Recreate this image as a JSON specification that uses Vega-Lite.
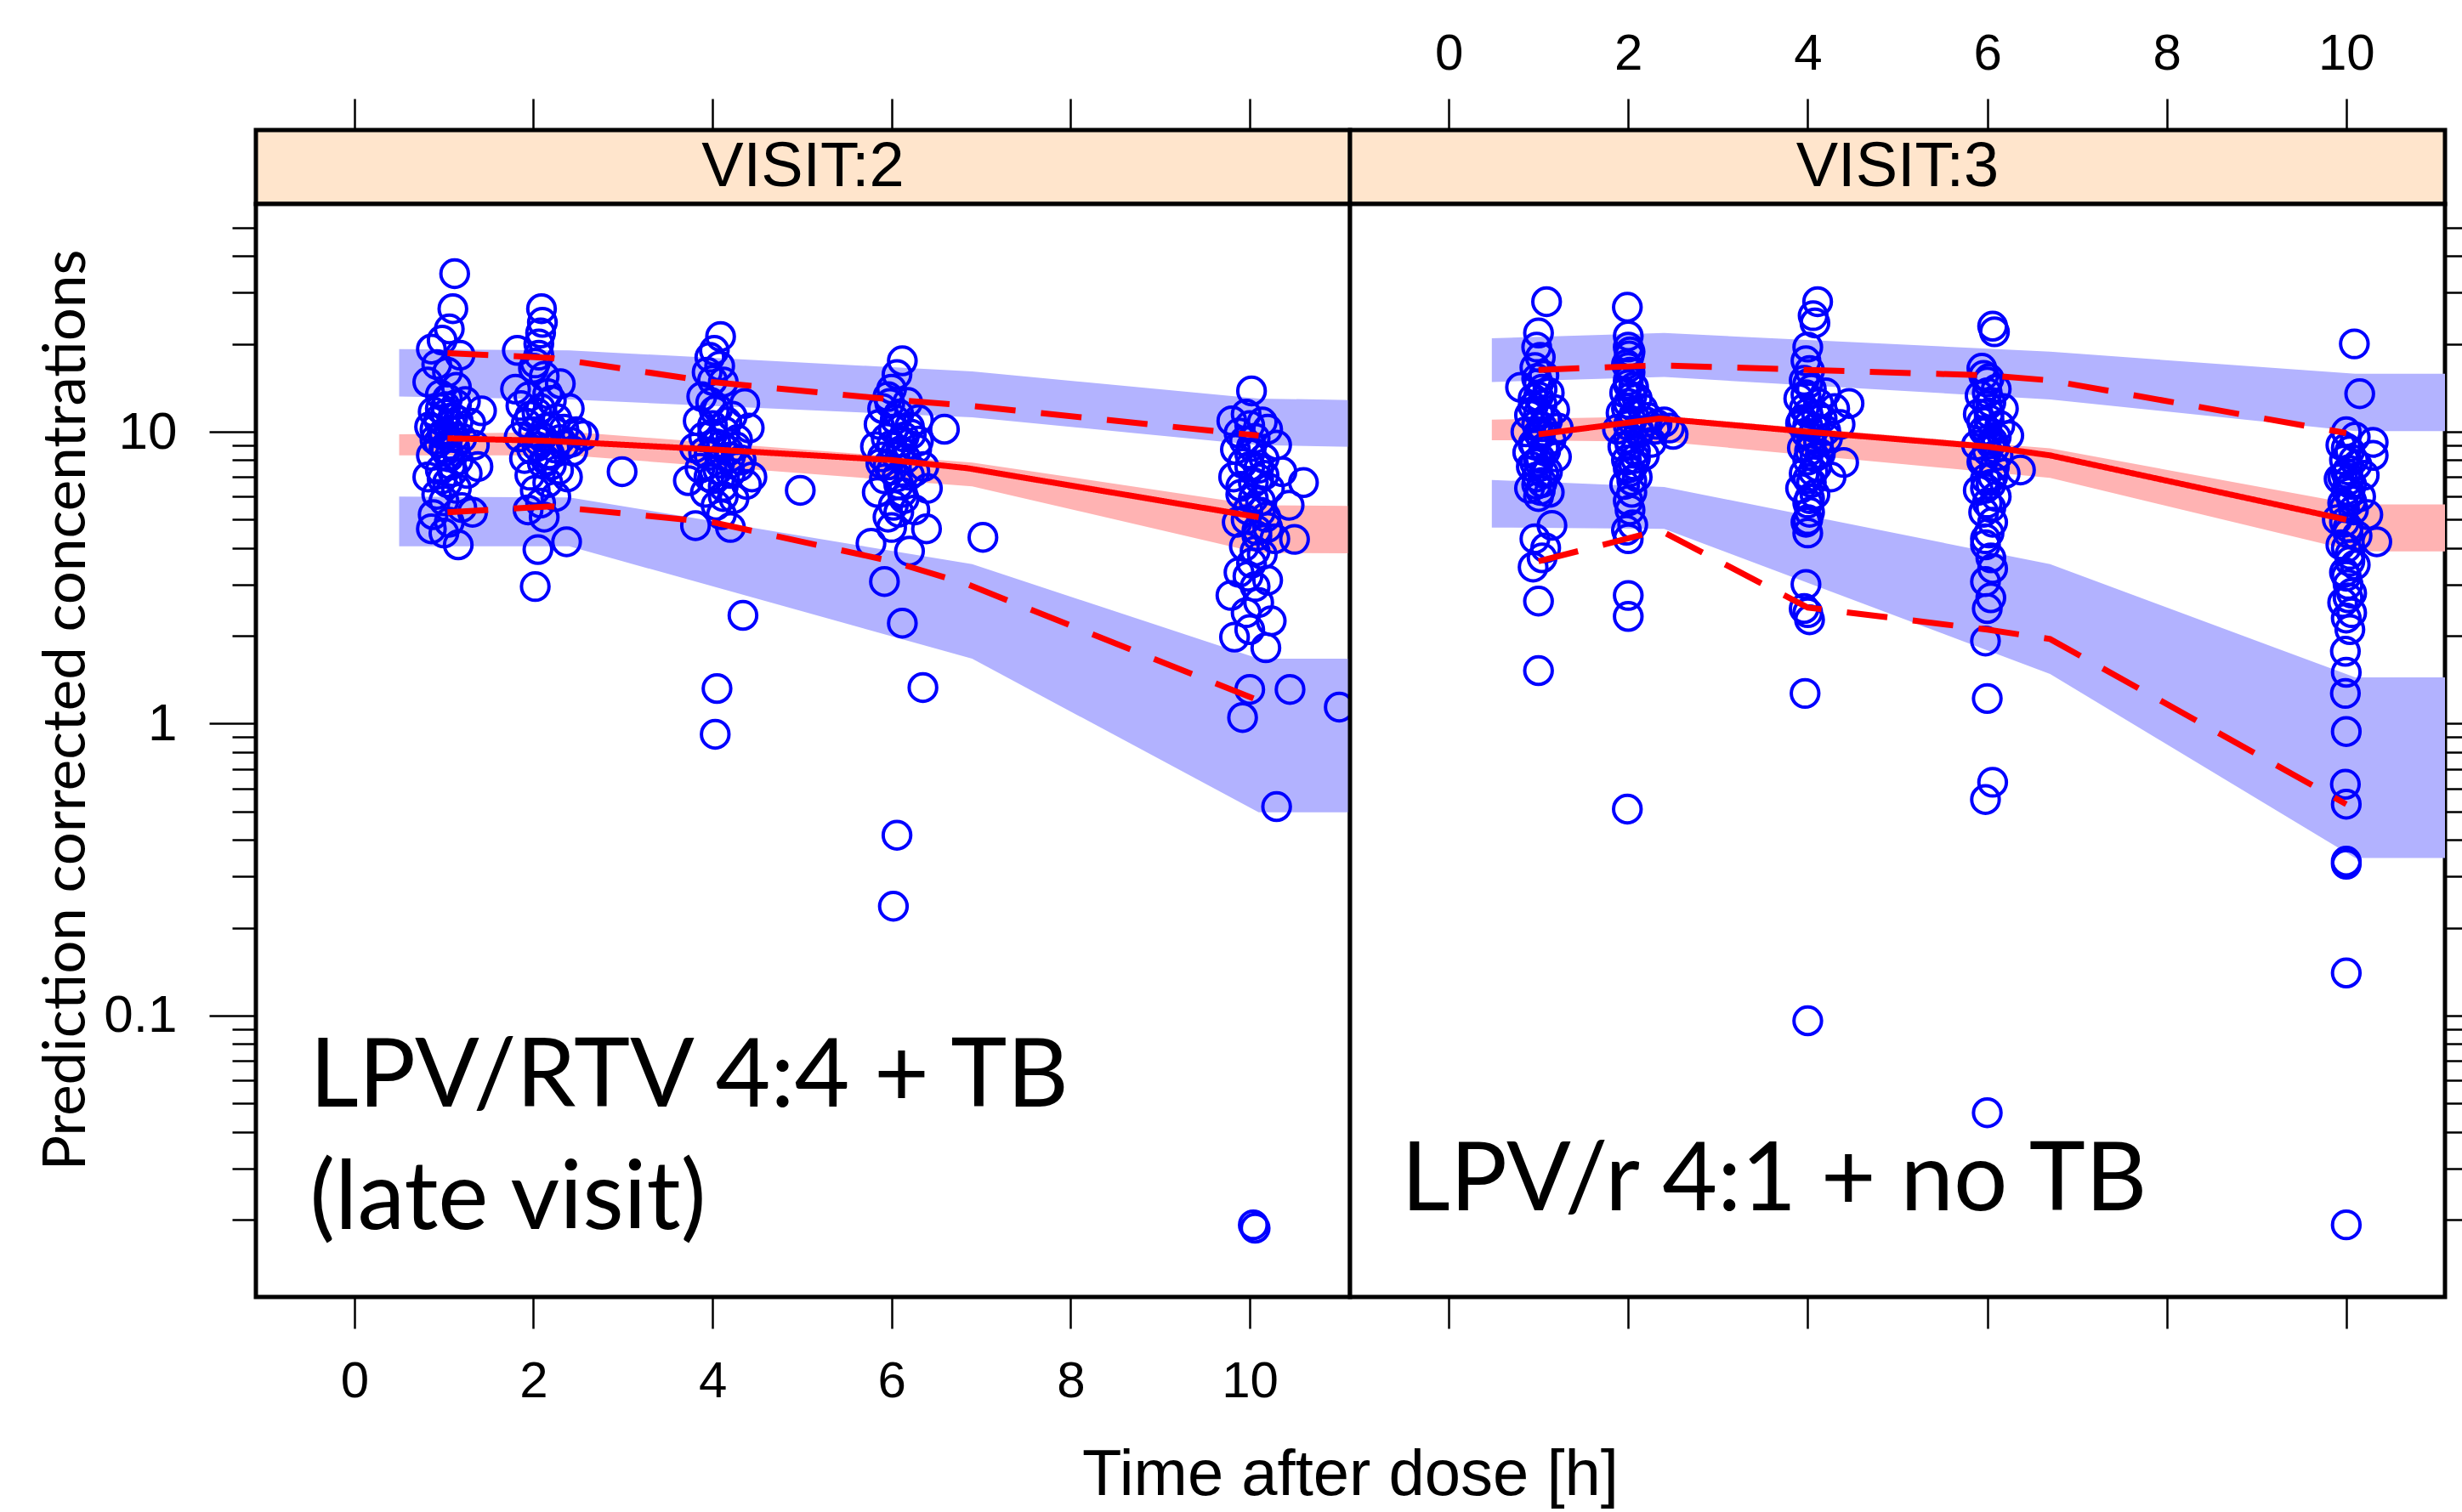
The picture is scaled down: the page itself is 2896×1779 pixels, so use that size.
{
"$schema": "https://vega.github.io/schema/vega-lite/v6.json",
"padding": {"left": 41, "top": 30, "right": 5, "bottom": 5},
"background": "white",
"datasets": {
"pts2": [
{"t":1.12,"v":34.8},{"t":1.10,"v":26.4},{"t":1.06,"v":22.5},{"t":0.98,"v":20.6},{"t":0.86,"v":19.2},{"t":1.18,"v":18.3},{"t":0.92,"v":17.0},{"t":1.04,"v":16.0},{"t":0.82,"v":14.8},{"t":1.14,"v":14.2},{"t":0.96,"v":13.4},{"t":1.24,"v":12.7},{"t":1.02,"v":12.2},{"t":0.88,"v":11.7},{"t":1.42,"v":11.8},{"t":1.10,"v":11.2},{"t":1.30,"v":10.7},{"t":0.84,"v":10.4},{"t":1.06,"v":10.1},{"t":0.98,"v":9.8},{"t":1.20,"v":9.5},{"t":0.94,"v":9.2},{"t":1.12,"v":8.9},{"t":1.02,"v":8.6},{"t":0.86,"v":8.3},{"t":1.16,"v":8.0},{"t":1.08,"v":7.7},{"t":0.96,"v":7.4},{"t":1.26,"v":7.2},{"t":0.82,"v":7.0},{"t":1.04,"v":6.7},{"t":1.14,"v":6.4},{"t":0.92,"v":6.1},{"t":1.00,"v":5.8},{"t":1.20,"v":5.5},{"t":0.88,"v":5.2},{"t":1.32,"v":5.3},{"t":1.06,"v":4.9},{"t":0.86,"v":4.65},{"t":1.00,"v":4.5},{"t":1.16,"v":4.1},{"t":1.34,"v":9.0},{"t":1.38,"v":7.6},
{"t":1.0,"v":9.9},{"t":1.08,"v":10.6},{"t":0.94,"v":11.0},{"t":1.12,"v":9.6},{"t":1.0,"v":8.8},{"t":0.9,"v":9.4},{"t":1.06,"v":8.2},{"t":1.16,"v":10.9},{"t":0.96,"v":12.0},{"t":1.04,"v":13.0},{"t":1.1,"v":7.3},{"t":0.98,"v":6.9},{"t":1.02,"v":11.5},{"t":0.9,"v":10.2},{"t":1.14,"v":12.4},
{"t":2.09,"v":26.4},{"t":2.10,"v":23.7},{"t":2.08,"v":21.8},{"t":2.06,"v":20.0},{"t":1.82,"v":19.0},{"t":2.02,"v":17.2},{"t":2.30,"v":14.6},{"t":1.80,"v":14.0},{"t":2.12,"v":15.5},{"t":1.95,"v":13.2},{"t":2.20,"v":12.8},{"t":1.86,"v":12.3},{"t":2.40,"v":12.0},{"t":2.04,"v":11.6},{"t":2.26,"v":11.1},{"t":1.92,"v":10.7},{"t":2.14,"v":10.3},{"t":2.48,"v":10.0},{"t":2.56,"v":9.7},{"t":1.84,"v":9.6},{"t":2.06,"v":9.3},{"t":2.34,"v":9.0},{"t":1.98,"v":8.7},{"t":2.18,"v":8.4},{"t":2.44,"v":8.6},{"t":1.90,"v":8.1},{"t":2.10,"v":7.8},{"t":2.28,"v":7.4},{"t":2.38,"v":7.0},{"t":1.96,"v":7.1},{"t":2.16,"v":6.7},{"t":2.02,"v":6.3},{"t":2.25,"v":6.0},{"t":2.08,"v":5.7},{"t":1.94,"v":5.4},{"t":2.12,"v":5.1},{"t":2.05,"v":3.95},{"t":2.37,"v":4.2},{"t":2.02,"v":2.95},
{"t":2.0,"v":10.0},{"t":2.1,"v":9.6},{"t":2.2,"v":10.4},{"t":2.3,"v":9.4},{"t":2.04,"v":8.9},{"t":2.14,"v":8.0},{"t":2.24,"v":8.8},{"t":2.34,"v":10.2},{"t":2.42,"v":9.2},{"t":1.96,"v":11.3},{"t":2.08,"v":12.0},{"t":2.16,"v":13.5},{"t":2.0,"v":16.5},{"t":2.06,"v":18.3},{"t":2.2,"v":7.7},
{"t":2.99,"v":7.3},{"t":4.98,"v":6.3},{"t":7.02,"v":4.35},{"t":6.59,"v":10.2},{"t":10.6,"v":6.7},{"t":11.0,"v":1.14},
{"t":4.09,"v":21.2},{"t":4.02,"v":19.0},{"t":3.97,"v":18.0},{"t":3.94,"v":16.0},{"t":4.12,"v":14.8},{"t":4.36,"v":12.5},{"t":3.88,"v":13.2},{"t":4.06,"v":12.0},{"t":4.22,"v":11.3},{"t":3.84,"v":10.9},{"t":4.41,"v":10.3},{"t":4.00,"v":10.5},{"t":4.14,"v":10.0},{"t":3.90,"v":9.6},{"t":4.28,"v":9.4},{"t":4.04,"v":9.1},{"t":3.80,"v":8.8},{"t":4.18,"v":8.6},{"t":3.96,"v":8.3},{"t":4.32,"v":8.0},{"t":4.08,"v":7.8},{"t":3.86,"v":7.5},{"t":4.20,"v":7.2},{"t":4.44,"v":7.0},{"t":4.00,"v":6.9},{"t":3.73,"v":6.8},{"t":4.12,"v":6.5},{"t":4.38,"v":6.6},{"t":3.92,"v":6.2},{"t":4.24,"v":5.9},{"t":4.04,"v":5.6},{"t":3.81,"v":4.77},{"t":4.20,"v":4.7},{"t":4.34,"v":2.35},{"t":4.05,"v":1.32},{"t":4.03,"v":0.92},{"t":4.10,"v":5.2},
{"t":4.0,"v":9.8},{"t":4.1,"v":9.0},{"t":4.2,"v":8.2},{"t":3.96,"v":7.0},{"t":4.06,"v":7.4},{"t":4.16,"v":10.8},{"t":3.9,"v":8.5},{"t":4.02,"v":11.8},{"t":4.26,"v":8.9},{"t":4.12,"v":6.0},{"t":3.98,"v":12.6},{"t":4.3,"v":7.6},{"t":4.0,"v":15.0},{"t":4.08,"v":16.8},
{"t":6.12,"v":17.5},{"t":6.06,"v":15.7},{"t":6.00,"v":14.0},{"t":5.96,"v":13.2},{"t":6.18,"v":12.6},{"t":5.90,"v":12.0},{"t":6.08,"v":11.5},{"t":6.30,"v":11.0},{"t":5.86,"v":10.6},{"t":6.02,"v":10.2},{"t":6.22,"v":9.8},{"t":5.94,"v":9.5},{"t":6.10,"v":9.2},{"t":5.82,"v":8.9},{"t":6.28,"v":8.7},{"t":6.04,"v":8.4},{"t":6.16,"v":8.1},{"t":5.88,"v":7.8},{"t":6.36,"v":7.6},{"t":6.00,"v":7.4},{"t":6.20,"v":7.1},{"t":5.92,"v":6.9},{"t":6.08,"v":6.6},{"t":6.40,"v":6.4},{"t":5.84,"v":6.2},{"t":6.14,"v":5.9},{"t":6.02,"v":5.6},{"t":6.26,"v":5.4},{"t":5.96,"v":5.1},{"t":6.39,"v":4.65},{"t":5.77,"v":4.15},{"t":6.20,"v":3.9},{"t":5.92,"v":3.07},{"t":6.12,"v":2.21},{"t":6.35,"v":1.33},{"t":6.06,"v":0.415},{"t":6.02,"v":0.237},
{"t":6.0,"v":9.0},{"t":6.1,"v":8.6},{"t":6.2,"v":10.4},{"t":5.96,"v":7.7},{"t":6.06,"v":7.0},{"t":6.14,"v":9.6},{"t":5.9,"v":8.2},{"t":6.04,"v":11.0},{"t":6.26,"v":7.3},{"t":6.12,"v":6.2},{"t":5.98,"v":12.5},{"t":6.3,"v":9.3},{"t":6.08,"v":5.3},{"t":6.0,"v":4.7},
{"t":10.02,"v":13.8},{"t":9.96,"v":11.5},{"t":9.80,"v":10.9},{"t":10.14,"v":10.8},{"t":10.20,"v":10.2},{"t":9.88,"v":9.9},{"t":10.06,"v":9.5},{"t":10.30,"v":9.0},{"t":9.84,"v":8.7},{"t":10.00,"v":8.4},{"t":10.16,"v":8.1},{"t":9.92,"v":7.8},{"t":10.10,"v":7.5},{"t":10.36,"v":7.3},{"t":9.82,"v":7.0},{"t":10.04,"v":6.7},{"t":10.22,"v":6.4},{"t":9.90,"v":6.1},{"t":10.12,"v":5.8},{"t":10.44,"v":5.6},{"t":9.98,"v":5.4},{"t":10.18,"v":5.1},{"t":9.86,"v":4.9},{"t":10.08,"v":4.6},{"t":10.28,"v":4.3},{"t":10.50,"v":4.28},{"t":9.94,"v":4.05},{"t":10.14,"v":3.8},{"t":10.02,"v":3.55},{"t":9.88,"v":3.3},{"t":10.20,"v":3.1},{"t":10.06,"v":2.95},{"t":9.79,"v":2.75},{"t":10.10,"v":2.6},{"t":9.96,"v":2.4},{"t":10.24,"v":2.25},{"t":10.00,"v":2.1},{"t":9.83,"v":1.98},{"t":10.18,"v":1.82},{"t":10.00,"v":1.31},{"t":9.92,"v":1.05},{"t":10.45,"v":1.31},{"t":10.30,"v":0.52},{"t":10.06,"v":0.0187},{"t":10.04,"v":0.0192},
{"t":10.0,"v":7.6},{"t":10.1,"v":6.9},{"t":10.04,"v":5.9},{"t":9.96,"v":5.0},{"t":10.08,"v":4.4},{"t":10.02,"v":8.9},{"t":9.9,"v":6.5},{"t":10.16,"v":7.1},{"t":10.06,"v":3.9},{"t":9.98,"v":3.2},{"t":10.12,"v":5.3},{"t":10.0,"v":10.5},{"t":9.94,"v":9.3},{"t":10.2,"v":4.7}
],
"pts3": [
{"t":1.09,"v":27.9},{"t":1.00,"v":21.8},{"t":0.98,"v":19.5},{"t":1.02,"v":18.0},{"t":0.96,"v":16.6},{"t":1.06,"v":15.6},{"t":0.80,"v":14.2},{"t":1.00,"v":14.6},{"t":1.12,"v":13.6},{"t":0.94,"v":13.0},{"t":1.04,"v":12.4},{"t":1.18,"v":11.9},{"t":0.90,"v":11.4},{"t":1.08,"v":11.0},{"t":0.98,"v":10.6},{"t":1.22,"v":10.3},{"t":0.86,"v":10.0},{"t":1.02,"v":9.7},{"t":1.14,"v":9.4},{"t":0.94,"v":9.1},{"t":1.06,"v":8.8},{"t":0.88,"v":8.5},{"t":1.20,"v":8.2},{"t":1.00,"v":7.9},{"t":0.92,"v":7.6},{"t":1.10,"v":7.3},{"t":0.98,"v":7.0},{"t":1.04,"v":6.7},{"t":0.90,"v":6.4},{"t":1.12,"v":6.2},{"t":1.00,"v":6.0},{"t":1.15,"v":4.78},{"t":0.96,"v":4.3},{"t":1.04,"v":3.7},{"t":0.94,"v":3.44},{"t":1.08,"v":4.0},{"t":1.00,"v":2.63},{"t":1.00,"v":1.52},
{"t":1.0,"v":9.9},{"t":1.04,"v":10.4},{"t":0.96,"v":9.0},{"t":1.08,"v":8.6},{"t":1.0,"v":11.6},{"t":0.94,"v":12.2},{"t":1.02,"v":8.1},{"t":1.06,"v":7.2},{"t":0.98,"v":6.6},{"t":1.1,"v":10.9},{"t":1.0,"v":13.2},{"t":1.04,"v":14.0},{"t":0.98,"v":15.2},{"t":1.02,"v":6.3},{"t":0.96,"v":7.8},
{"t":1.99,"v":26.7},{"t":2.00,"v":21.3},{"t":2.00,"v":19.5},{"t":2.01,"v":18.2},{"t":1.98,"v":17.0},{"t":2.02,"v":16.0},{"t":2.00,"v":15.0},{"t":2.06,"v":14.2},{"t":1.96,"v":13.6},{"t":2.10,"v":13.0},{"t":2.00,"v":12.5},{"t":2.16,"v":12.0},{"t":1.92,"v":11.6},{"t":2.22,"v":11.2},{"t":2.04,"v":10.9},{"t":2.32,"v":10.6},{"t":2.46,"v":10.3},{"t":2.50,"v":9.8},{"t":1.88,"v":10.2},{"t":2.12,"v":9.9},{"t":2.00,"v":9.5},{"t":2.26,"v":9.2},{"t":1.94,"v":8.9},{"t":2.08,"v":8.6},{"t":2.18,"v":8.3},{"t":1.98,"v":8.0},{"t":2.06,"v":7.7},{"t":2.02,"v":7.3},{"t":2.10,"v":7.0},{"t":1.96,"v":6.6},{"t":2.04,"v":6.2},{"t":2.00,"v":5.8},{"t":2.02,"v":5.4},{"t":2.05,"v":4.8},{"t":1.98,"v":4.6},{"t":2.00,"v":4.3},{"t":2.00,"v":2.75},{"t":2.00,"v":2.33},{"t":1.99,"v":0.51},
{"t":2.0,"v":10.5},{"t":2.06,"v":11.4},{"t":2.12,"v":10.1},{"t":2.2,"v":10.8},{"t":2.3,"v":10.2},{"t":2.4,"v":10.8},{"t":2.02,"v":9.0},{"t":2.08,"v":8.1},{"t":1.98,"v":12.0},{"t":2.04,"v":13.2},{"t":2.0,"v":14.5},{"t":2.0,"v":16.6},{"t":2.02,"v":18.8},{"t":2.0,"v":7.5},{"t":2.04,"v":6.8},
{"t":4.11,"v":27.9},{"t":4.06,"v":25.0},{"t":4.08,"v":23.6},{"t":4.00,"v":19.5},{"t":3.98,"v":17.5},{"t":4.02,"v":16.2},{"t":4.46,"v":12.5},{"t":3.96,"v":15.0},{"t":4.04,"v":14.0},{"t":4.20,"v":13.6},{"t":3.90,"v":13.0},{"t":4.12,"v":12.5},{"t":4.30,"v":12.0},{"t":4.00,"v":11.6},{"t":4.16,"v":11.1},{"t":3.92,"v":10.7},{"t":4.08,"v":10.3},{"t":4.36,"v":10.6},{"t":3.98,"v":9.9},{"t":4.22,"v":9.5},{"t":4.04,"v":9.1},{"t":3.94,"v":8.8},{"t":4.14,"v":8.4},{"t":4.40,"v":7.85},{"t":4.00,"v":8.0},{"t":4.10,"v":7.6},{"t":3.96,"v":7.2},{"t":4.26,"v":7.0},{"t":4.04,"v":6.7},{"t":3.92,"v":6.4},{"t":4.08,"v":6.1},{"t":4.00,"v":5.7},{"t":4.02,"v":5.3},{"t":3.98,"v":4.9},{"t":4.00,"v":4.5},{"t":3.98,"v":3.0},{"t":3.96,"v":2.48},{"t":4.02,"v":2.27},{"t":4.00,"v":2.4},{"t":3.97,"v":1.27},{"t":4.00,"v":0.096},
{"t":4.0,"v":10.5},{"t":4.04,"v":9.6},{"t":4.1,"v":11.4},{"t":3.96,"v":12.0},{"t":4.02,"v":8.6},{"t":4.08,"v":8.2},{"t":3.98,"v":13.4},{"t":4.0,"v":14.6},{"t":4.06,"v":7.3},{"t":4.0,"v":6.9},{"t":4.12,"v":9.2},{"t":4.2,"v":10.1},{"t":3.94,"v":11.0},{"t":4.02,"v":5.9},{"t":4.0,"v":5.0},
{"t":6.06,"v":23.0},{"t":6.08,"v":22.0},{"t":5.94,"v":16.5},{"t":5.96,"v":15.6},{"t":6.00,"v":14.8},{"t":6.10,"v":14.0},{"t":5.92,"v":13.3},{"t":6.04,"v":12.6},{"t":6.18,"v":12.0},{"t":5.90,"v":11.5},{"t":6.02,"v":11.0},{"t":6.14,"v":10.5},{"t":5.96,"v":10.1},{"t":6.24,"v":9.7},{"t":6.06,"v":9.3},{"t":5.88,"v":9.0},{"t":6.00,"v":8.6},{"t":6.12,"v":8.3},{"t":6.37,"v":7.4},{"t":5.94,"v":7.9},{"t":6.08,"v":7.6},{"t":6.20,"v":7.2},{"t":5.98,"v":6.9},{"t":6.04,"v":6.6},{"t":5.90,"v":6.3},{"t":6.10,"v":6.0},{"t":6.00,"v":5.7},{"t":5.96,"v":5.3},{"t":6.06,"v":4.9},{"t":6.02,"v":4.5},{"t":5.98,"v":4.1},{"t":6.04,"v":3.7},{"t":5.98,"v":3.07},{"t":6.00,"v":2.48},{"t":6.04,"v":2.7},{"t":5.98,"v":1.92},{"t":6.00,"v":1.22},{"t":6.06,"v":0.63},{"t":5.98,"v":0.55},{"t":6.00,"v":0.0465},
{"t":6.0,"v":10.0},{"t":6.04,"v":9.1},{"t":6.08,"v":8.8},{"t":5.96,"v":8.0},{"t":6.02,"v":11.6},{"t":6.0,"v":12.3},{"t":6.06,"v":7.0},{"t":5.98,"v":6.4},{"t":6.1,"v":9.6},{"t":5.94,"v":10.8},{"t":6.0,"v":13.6},{"t":6.02,"v":15.2},{"t":6.04,"v":5.5},{"t":5.98,"v":4.3},{"t":6.06,"v":3.4},
{"t":10.09,"v":20.0},{"t":10.15,"v":13.5},{"t":10.00,"v":10.0},{"t":10.10,"v":9.6},{"t":10.30,"v":9.2},{"t":9.94,"v":9.0},{"t":10.04,"v":8.6},{"t":10.30,"v":8.3},{"t":9.98,"v":8.0},{"t":10.12,"v":7.7},{"t":10.02,"v":7.4},{"t":10.20,"v":7.1},{"t":9.92,"v":6.9},{"t":10.06,"v":6.6},{"t":10.00,"v":6.3},{"t":10.16,"v":6.0},{"t":9.96,"v":5.7},{"t":10.08,"v":5.4},{"t":10.24,"v":5.2},{"t":9.90,"v":5.0},{"t":10.02,"v":4.7},{"t":10.34,"v":4.2},{"t":10.12,"v":4.4},{"t":9.94,"v":4.1},{"t":10.04,"v":3.8},{"t":10.10,"v":3.5},{"t":9.98,"v":3.3},{"t":10.02,"v":3.0},{"t":10.06,"v":2.8},{"t":9.96,"v":2.6},{"t":10.00,"v":2.3},{"t":10.04,"v":2.1},{"t":9.99,"v":1.77},{"t":10.00,"v":1.5},{"t":9.99,"v":1.27},{"t":10.00,"v":0.94},{"t":9.99,"v":0.62},{"t":10.00,"v":0.53},{"t":10.00,"v":0.338},{"t":10.00,"v":0.33},{"t":10.00,"v":0.14},{"t":10.00,"v":0.0192},
{"t":10.0,"v":7.2},{"t":10.04,"v":6.2},{"t":10.06,"v":5.8},{"t":9.98,"v":4.9},{"t":10.02,"v":4.5},{"t":10.0,"v":8.8},{"t":10.08,"v":8.0},{"t":9.96,"v":7.0},{"t":10.04,"v":3.6},{"t":10.0,"v":3.2},{"t":10.02,"v":2.7},{"t":10.06,"v":2.4},{"t":9.98,"v":5.5},{"t":10.02,"v":6.8},{"t":10.0,"v":4.0}
],
"band2": [
{"band":"upper","t":0.5,"v":13.2,"v2":19.2},{"band":"upper","t":2.4,"v":12.9,"v2":19.0},{"band":"upper","t":6.9,"v":11.2,"v2":16.1},{"band":"upper","t":10.1,"v":9.0,"v2":13.0},{"band":"upper","t":11.4,"v":8.85,"v2":12.8},
{"band":"median","t":0.5,"v":8.3,"v2":9.8},{"band":"median","t":2.4,"v":8.3,"v2":10.0},{"band":"median","t":6.9,"v":6.5,"v2":7.85},{"band":"median","t":10.1,"v":3.85,"v2":5.6},{"band":"median","t":11.4,"v":3.83,"v2":5.57},
{"band":"lower","t":0.5,"v":4.05,"v2":6.0},{"band":"lower","t":2.4,"v":4.05,"v2":5.96},{"band":"lower","t":6.9,"v":1.67,"v2":3.52},{"band":"lower","t":10.1,"v":0.497,"v2":1.67},{"band":"lower","t":11.4,"v":0.497,"v2":1.67}
],
"band3": [
{"band":"upper","t":0.48,"v":14.8,"v2":20.9},{"band":"upper","t":2.4,"v":15.4,"v2":21.8},{"band":"upper","t":6.7,"v":12.9,"v2":18.8},{"band":"upper","t":10.1,"v":10.05,"v2":15.8},{"band":"upper","t":11.4,"v":10.05,"v2":15.8},
{"band":"median","t":0.48,"v":9.36,"v2":11.0},{"band":"median","t":2.4,"v":9.25,"v2":11.3},{"band":"median","t":6.7,"v":6.95,"v2":8.77},{"band":"median","t":10.1,"v":3.89,"v2":5.64},{"band":"median","t":11.4,"v":3.89,"v2":5.64},
{"band":"lower","t":0.48,"v":4.7,"v2":6.84},{"band":"lower","t":2.4,"v":4.65,"v2":6.47},{"band":"lower","t":6.7,"v":1.48,"v2":3.52},{"band":"lower","t":10.1,"v":0.347,"v2":1.44},{"band":"lower","t":11.4,"v":0.347,"v2":1.44}
],
"line2": [
{"stat":"p95","t":1.04,"v":18.6},{"stat":"p95","t":2.2,"v":17.9},{"stat":"p95","t":4.0,"v":14.8},{"stat":"p95","t":6.0,"v":12.9},{"stat":"p95","t":6.85,"v":12.3},{"stat":"p95","t":10.1,"v":9.7},
{"stat":"p50","t":1.04,"v":9.5},{"stat":"p50","t":2.2,"v":9.3},{"stat":"p50","t":4.0,"v":8.7},{"stat":"p50","t":6.0,"v":8.0},{"stat":"p50","t":6.85,"v":7.5},{"stat":"p50","t":10.1,"v":5.1},
{"stat":"p05","t":1.04,"v":5.3},{"stat":"p05","t":2.2,"v":5.55},{"stat":"p05","t":4.0,"v":4.9},{"stat":"p05","t":6.0,"v":3.6},{"stat":"p05","t":6.85,"v":3.0},{"stat":"p05","t":10.1,"v":1.2}
],
"line3": [
{"stat":"p95","t":1.0,"v":16.3},{"stat":"p95","t":2.35,"v":16.9},{"stat":"p95","t":4.0,"v":16.3},{"stat":"p95","t":6.0,"v":15.6},{"stat":"p95","t":6.7,"v":15.0},{"stat":"p95","t":10.0,"v":9.9},
{"stat":"p50","t":1.0,"v":9.8},{"stat":"p50","t":2.35,"v":11.1},{"stat":"p50","t":4.0,"v":10.0},{"stat":"p50","t":6.0,"v":8.9},{"stat":"p50","t":6.7,"v":8.3},{"stat":"p50","t":10.0,"v":5.0},
{"stat":"p05","t":1.0,"v":3.6},{"stat":"p05","t":2.35,"v":4.6},{"stat":"p05","t":4.0,"v":2.5},{"stat":"p05","t":6.0,"v":2.1},{"stat":"p05","t":6.7,"v":1.95},{"stat":"p05","t":10.0,"v":0.53}
],
"txt2": [{"t":-0.5,"v":0.0488,"txt":"LPV/RTV 4:4 + TB"},{"t":-0.5,"v":0.01858,"txt":"(late visit)"}],
"txt3": [{"t":-0.53,"v":0.02153,"txt":"LPV/r 4:1 + no TB"}]
},
"concat": [
{
"width": 1287, "height": 87,
"view": {"fill": "#FFE5CC", "stroke": "black", "strokeWidth": 5},
"data": {"values": [{"t": 5.01, "label": "VISIT:2"}]},
"mark": {"type": "text", "font": "Liberation Sans", "fontSize": 74, "baseline": "middle", "color": "black"},
"encoding": {
"x": {"field": "t", "type": "quantitative", "scale": {"domain": [-1.1, 11.12], "nice": false, "zero": false},
"axis": {"orient": "top", "values": [0,2,4,6,8,10], "labels": false, "tickSize": 37, "title": null}},
"text": {"field": "label"}
}
},
{
"width": 1288, "height": 87,
"view": {"fill": "#FFE5CC", "stroke": "black", "strokeWidth": 5},
"data": {"values": [{"t": 5.0, "label": "VISIT:3"}]},
"mark": {"type": "text", "font": "Liberation Sans", "fontSize": 74, "baseline": "middle", "color": "black"},
"encoding": {
"x": {"field": "t", "type": "quantitative", "scale": {"domain": [-1.1, 11.1], "nice": false, "zero": false},
"axis": {"orient": "top", "values": [0,2,4,6,8,10], "labels": true, "tickSize": 37, "labelPadding": 22, "title": null}},
"text": {"field": "label"}
}
},
{
"width": 1287, "height": 1286,
"view": {"fill": "white", "stroke": "black", "strokeWidth": 5},
"encoding": {
"x": {"field": "t", "type": "quantitative", "scale": {"domain": [-1.1, 11.12], "nice": false, "zero": false},
"axis": {"orient": "bottom", "values": [0,2,4,6,8,10], "tickSize": 37, "labelPadding": 33, "title": "Time after dose [h]", "titleFont": "Liberation Sans", "titleFontSize": 76, "titleFontWeight": "normal", "titleX": 1287, "titleY": 232, "titleAlign": "center", "titleBaseline": "alphabetic"}},
"y": {"field": "v", "type": "quantitative", "scale": {"type": "log", "domain": [0.01087, 60.3], "nice": false},
"axis": {"orient": "left", "values": [0.02,0.03,0.04,0.05,0.06,0.07,0.08,0.09,0.1,0.2,0.3,0.4,0.5,0.6,0.7,0.8,0.9,1,2,3,4,5,6,7,8,9,10,20,30,40,50],
"labelExpr": "datum.value == 0.1 ? '0.1' : datum.value == 1 ? '1' : datum.value == 10 ? '10' : ''",
"labelOverlap": false, "labelBaseline": "middle", "labelFontSize": 62,
"tickSize": {"condition": {"test": "datum.value == 0.1 || datum.value == 1 || datum.value == 10", "value": 55}, "value": 28},
"labelPadding": 38,
"title": "Prediction corrected concentrations", "titleFont": "Lato", "titleFontSize": 69, "titleFontWeight": "normal",
"titleAngle": -90, "titleX": -223, "titleY": 595, "titleAlign": "center", "titleBaseline": "middle"}}
},
"layer": [
{"data": {"name": "band2"}, "mark": {"type": "area", "clip": true, "opacity": 1},
 "encoding": {"y2": {"field": "v2"}, "color": {"field": "band", "type": "nominal", "scale": {"domain": ["upper","median","lower"], "range": ["#B3B3FF","#FFB3B3","#B2B2FF"]}, "legend": null}}},
{"data": {"name": "pts2"}, "mark": {"type": "point", "shape": "circle", "filled": false, "stroke": "#0000FF", "strokeWidth": 4, "size": 1050, "opacity": 1}},
{"data": {"name": "line2"}, "mark": {"type": "line", "clip": true, "color": "#FF0000", "strokeWidth": 7},
 "encoding": {"strokeDash": {"field": "stat", "type": "nominal", "scale": {"domain": ["p05","p50","p95"], "range": [[48,30],[1,0],[48,30]]}, "legend": null}}},
{"data": {"name": "txt2"}, "mark": {"type": "text", "font": "Lato", "fontSize": 112, "align": "left", "baseline": "alphabetic", "color": "black"},
 "encoding": {"text": {"field": "txt"}}}
]
},
{
"width": 1288, "height": 1286,
"view": {"fill": "white", "stroke": "black", "strokeWidth": 5},
"encoding": {
"x": {"field": "t", "type": "quantitative", "scale": {"domain": [-1.1, 11.1], "nice": false, "zero": false},
"axis": {"orient": "bottom", "values": [0,2,4,6,8,10], "tickSize": 37, "labels": false, "title": null}},
"y": {"field": "v", "type": "quantitative", "scale": {"type": "log", "domain": [0.01087, 60.3], "nice": false},
"axis": {"orient": "right", "values": [0.02,0.03,0.04,0.05,0.06,0.07,0.08,0.09,0.1,0.2,0.3,0.4,0.5,0.6,0.7,0.8,0.9,1,2,3,4,5,6,7,8,9,10,20,30,40,50],
"labels": false,
"tickSize": {"condition": {"test": "datum.value == 0.1 || datum.value == 1 || datum.value == 10", "value": 55}, "value": 28},
"title": null}}
},
"layer": [
{"data": {"name": "band3"}, "mark": {"type": "area", "clip": true, "opacity": 1},
 "encoding": {"y2": {"field": "v2"}, "color": {"field": "band", "type": "nominal", "scale": {"domain": ["upper","median","lower"], "range": ["#B3B3FF","#FFB3B3","#B2B2FF"]}, "legend": null}}},
{"data": {"name": "pts3"}, "mark": {"type": "point", "shape": "circle", "filled": false, "stroke": "#0000FF", "strokeWidth": 4, "size": 1050, "opacity": 1}},
{"data": {"name": "line3"}, "mark": {"type": "line", "clip": true, "color": "#FF0000", "strokeWidth": 7},
 "encoding": {"strokeDash": {"field": "stat", "type": "nominal", "scale": {"domain": ["p05","p50","p95"], "range": [[48,30],[1,0],[48,30]]}, "legend": null}}},
{"data": {"name": "txt3"}, "mark": {"type": "text", "font": "Lato", "fontSize": 112, "align": "left", "baseline": "alphabetic", "color": "black"},
 "encoding": {"text": {"field": "txt"}}}
]
}
],
"columns": 2,
"spacing": 0,
"bounds": "flush",
"config": {
"axis": {"domain": false, "grid": false, "tickColor": "black", "tickWidth": 2.5, "labelColor": "black", "labelFont": "Liberation Sans", "labelFontSize": 60, "titleColor": "black", "labelFontWeight": "normal"}
}
}
